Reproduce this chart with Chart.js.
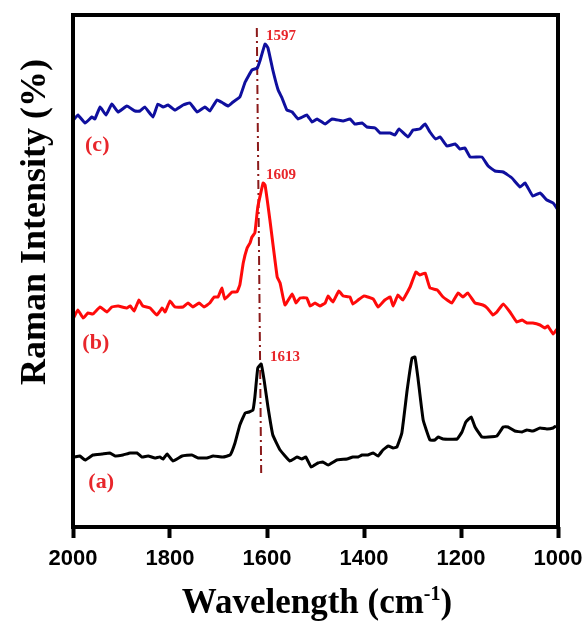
<!DOCTYPE html>
<html><head><meta charset="utf-8">
<script src="https://cdn.jsdelivr.net/npm/chart.js@4/dist/chart.umd.min.js"></script>
<style>html,body{margin:0;padding:0;background:#fff}#wrap{width:585px;height:622px}</style>
</head><body><div id="wrap"><canvas id="c" width="585" height="622"></canvas></div>
<script>
// (c) blue spectrum
const waveC = [1999,1990,1975,1961,1955,1944,1932,1920,1907,1889,1872,1862,1852,1835,1825,1814,1804,1790,1773,1759,1744,1728,1718,1703,1691,1680,1670,1656,1645,1631,1620,1614,1604,1598,1588,1577,1569,1559,1548,1536,1518,1507,1497,1480,1466,1443,1429,1419,1404,1394,1377,1367,1346,1336,1328,1309,1299,1285,1274,1264,1252,1243,1229,1212,1202,1192,1181,1157,1144,1130,1113,1095,1078,1068,1052,1037,1023,1010,1000];
const intensityC = [407,412,404,410,408,420,412,423,415,421,416,416,420,410,423,420,422,417,422,424,415,420,416,427,424,421,425,430,445,457,459,467,483,479,457,437,429,417,415,408,412,405,408,403,408,406,408,403,404,400,399,394,394,392,398,390,397,398,403,395,388,390,381,383,378,379,370,370,361,356,355,349,340,344,331,334,327,324,317];
// (b) red spectrum
const waveB = [2000,1990,1979,1969,1959,1944,1930,1920,1907,1889,1882,1874,1864,1856,1841,1827,1816,1810,1800,1790,1773,1763,1753,1740,1730,1718,1709,1701,1693,1687,1672,1662,1656,1649,1641,1635,1631,1625,1619,1608,1604,1594,1579,1573,1563,1548,1540,1532,1518,1511,1501,1491,1480,1474,1464,1452,1443,1429,1423,1412,1400,1381,1371,1357,1346,1340,1330,1320,1305,1293,1285,1274,1264,1249,1237,1219,1206,1196,1186,1171,1155,1146,1134,1126,1113,1099,1085,1074,1064,1052,1037,1027,1021,1010,1000];
const intensityB = [208,217,209,214,213,220,215,220,221,219,221,216,227,221,219,212,219,215,226,220,220,224,220,224,220,224,230,230,239,228,235,235,242,264,279,284,290,294,320,344,342,307,250,244,222,233,224,229,229,221,224,221,224,231,225,236,231,230,223,227,231,228,220,227,230,221,232,227,240,255,252,254,239,237,230,224,234,230,234,224,222,219,212,215,223,215,205,207,204,204,202,199,201,193,199];
// (a) black spectrum
const waveA = [1996,1986,1975,1959,1940,1924,1913,1897,1882,1868,1858,1845,1831,1821,1814,1806,1794,1775,1755,1742,1724,1711,1691,1676,1666,1656,1645,1637,1629,1625,1619,1612,1606,1598,1588,1573,1553,1538,1528,1520,1509,1495,1485,1474,1456,1435,1423,1412,1404,1392,1381,1371,1361,1350,1340,1332,1322,1311,1301,1295,1289,1278,1264,1254,1247,1237,1208,1198,1190,1179,1171,1157,1144,1126,1113,1103,1089,1074,1064,1052,1037,1023,1010,1004];
const intensityA = [70,71,67,72,73,74,71,72,74,74,70,71,69,70,68,73,66,71,72,69,69,71,70,72,84,102,114,115,117,130,159,163,147,120,92,77,66,70,68,70,60,64,65,62,67,68,70,70,72,72,74,71,77,81,79,80,94,137,169,170,150,107,87,87,90,88,88,95,105,110,100,90,90,91,100,100,96,95,97,96,99,98,99,101];
// guide line through the main peak
const guideX = [1621,1612];
const guideY = [499,54];
// x tick labels
const xTicks = [2000,1800,1600,1400,1200,1000];
// annotations
const peakText = ['1597','1609','1613'];
const peakX = [1602,1602,1594];
const peakY = [491,352,170];
const curveText = ['(c)','(b)','(a)'];
const curveX = [1950,1953,1942];
const curveY = [382,184,45];

const zip = (xs, ys) => xs.map((x, i) => ({x, y: ys[i]}));

const deco = {
  id: 'deco',
  afterDraw(chart) {
    const ctx = chart.ctx, a = chart.chartArea;
    const xs = chart.scales.x, ys = chart.scales.y;
    ctx.save();
    ctx.strokeStyle = '#000';
    ctx.lineWidth = 4;
    ctx.strokeRect(a.left, a.top, a.right - a.left, a.bottom - a.top);
    // annotations
    ctx.fillStyle = '#E8262B';
    ctx.font = 'bold 15px "Liberation Serif"';
    ctx.textAlign = 'left'; ctx.textBaseline = 'middle';
    peakText.forEach((t, i) => ctx.fillText(t, xs.getPixelForValue(peakX[i]), ys.getPixelForValue(peakY[i])));
    ctx.font = 'bold 22px "Liberation Serif"';
    ctx.textAlign = 'center';
    curveText.forEach((t, i) => ctx.fillText(t, xs.getPixelForValue(curveX[i]), ys.getPixelForValue(curveY[i])));
    // x title
    ctx.fillStyle = '#000';
    ctx.textBaseline = 'alphabetic';
    ctx.textAlign = 'left';
    const big = 'bold 35px "Liberation Serif"', small = 'bold 20px "Liberation Serif"';
    ctx.font = big;
    const p1 = 'Wavelength (cm', p3 = ')';
    const w1 = ctx.measureText(p1).width, w3 = ctx.measureText(p3).width;
    ctx.font = small;
    const w2 = ctx.measureText('-1').width;
    const total = w1 + w2 + w3;
    let x0 = 317 - total / 2;
    const by = 613;
    ctx.font = big; ctx.fillText(p1, x0, by);
    ctx.font = small; ctx.fillText('-1', x0 + w1, by - 13);
    ctx.font = big; ctx.fillText(p3, x0 + w1 + w2, by);
    // y title
    ctx.translate(45, 222);
    ctx.rotate(-Math.PI / 2);
    ctx.textAlign = 'center';
    ctx.font = 'bold 36px "Liberation Serif"';
    ctx.fillText('Raman Intensity (%)', 0, 0);
    ctx.restore();
  }
};

new Chart(document.getElementById('c'), {
  type: 'scatter',
  data: {
    datasets: [
      {data: zip(waveC, intensityC), showLine: true, borderColor: '#0F0F9E', borderWidth: 3, pointRadius: 0, tension: 0.1},
      {data: zip(waveB, intensityB), showLine: true, borderColor: '#FF0A0A', borderWidth: 3, pointRadius: 0, tension: 0.1},
      {data: zip(waveA, intensityA), showLine: true, borderColor: '#000000', borderWidth: 3, pointRadius: 0, tension: 0.1},
      {data: zip(guideX, guideY), showLine: true, borderColor: '#8B1A1A', borderWidth: 2, borderDash: [9,4,2,4], pointRadius: 0}
    ]
  },
  options: {
    responsive: false,
    animation: false,
    layout: {padding: {left: 73, right: 27, top: 15, bottom: 0}},
    plugins: {legend: {display: false}, tooltip: {enabled: false}},
    scales: {
      x: {
        type: 'linear', reverse: true, min: 1000, max: 2000,
        afterBuildTicks: s => { s.ticks = xTicks.map(v => ({value: v})); },
        afterFit: s => { s.height = 95; s.paddingRight = 0; s.paddingLeft = 0; },
        border: {display: false},
        grid: {drawOnChartArea: false, drawTicks: true, tickLength: 11, tickWidth: 4, tickColor: '#000', color: '#000'},
        ticks: {color: '#000', font: {family: 'Liberation Sans', weight: 'bold', size: 22}, padding: 8, maxRotation: 0,
                callback: v => String(v)}
      },
      y: {display: false, min: 0, max: 512}
    }
  },
  plugins: [deco]
});
</script></body></html>
